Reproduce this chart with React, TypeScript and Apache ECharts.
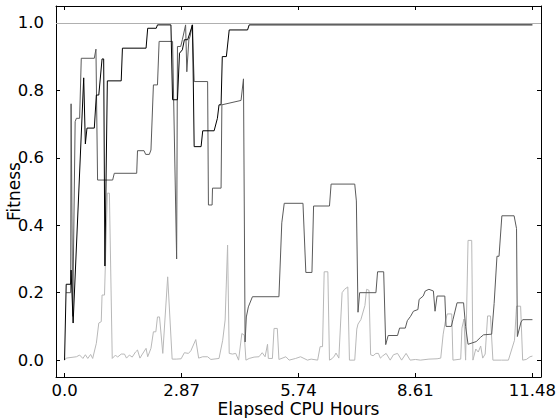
import React, { useEffect, useRef } from "react";
import * as echarts from "echarts";

const xTicks = [0, 2.87, 5.74, 8.61, 11.48];
const xTickLabels = ["0.0", "2.87", "5.74", "8.61", "11.48"];
const yTicks = [0, 0.2, 0.4, 0.6, 0.8, 1.0];
const yTickLabels = ["0.0", "0.2", "0.4", "0.6", "0.8", "1.0"];
const referenceLevel = 1.0;

// Run 1 (black): [hours, fitness]
const runBlack: [number, number][] = [
  [0, 0], [0.04, 0.225], [0.15, 0.225], [0.16, 0.267], [0.21, 0.11], [0.47, 0.837],
  [0.51, 0.641], [0.55, 0.688], [0.73, 0.688], [0.78, 0.786], [0.84, 0.786],
  [0.92, 0.893], [0.96, 0.893], [0.99, 0.279], [1.05, 0.828], [1.39, 0.828],
  [1.42, 0.925], [2.0, 0.925], [2.04, 0.984], [2.25, 0.984], [2.28, 0.994],
  [2.61, 0.994], [2.65, 0.772], [2.77, 0.772], [2.82, 0.91], [2.89, 0.92],
  [2.94, 0.95], [3.02, 0.95], [3.14, 0.994], [3.18, 0.633], [3.35, 0.633],
  [3.39, 0.68], [3.67, 0.68], [3.75, 0.717], [3.79, 0.757], [3.84, 0.757],
  [3.87, 0.9], [3.97, 0.9], [4.04, 0.979], [4.49, 0.979], [4.53, 0.994],
  [11.48, 0.994],
];

// Run 2 (dark grey)
const runDark: [number, number][] = [
  [0.04, 0.2], [0.15, 0.2], [0.16, 0.76], [0.2, 0.13], [0.26, 0.707], [0.29, 0.717],
  [0.37, 0.717], [0.41, 0.895], [0.73, 0.895], [0.77, 0.922], [0.81, 0.534],
  [1.18, 0.534], [1.22, 0.554], [1.77, 0.554], [1.79, 0.621], [1.95, 0.621],
  [1.99, 0.61], [2.08, 0.61], [2.12, 0.623], [2.18, 0.816], [2.28, 0.816],
  [2.32, 0.945], [2.65, 0.945], [2.75, 0.3], [2.77, 0.93], [2.85, 0.93],
  [2.89, 0.95], [2.97, 0.994], [3.0, 0.855], [3.05, 0.95], [3.08, 0.96],
  [3.13, 0.994], [3.18, 0.826], [3.51, 0.826], [3.53, 0.46], [3.62, 0.46],
  [3.63, 0.51], [3.84, 0.51], [3.86, 0.757], [4.33, 0.77], [4.39, 0.834],
  [4.43, 0.054], [4.46, 0.128], [4.51, 0.158], [4.61, 0.188], [5.26, 0.188],
  [5.33, 0.407], [5.39, 0.465], [5.85, 0.465], [5.92, 0.26], [6.07, 0.26],
  [6.11, 0.457], [6.5, 0.457], [6.54, 0.522], [7.12, 0.522], [7.16, 0.472],
  [7.2, 0.142], [7.24, 0.2], [7.64, 0.2], [7.68, 0.262], [7.83, 0.262],
  [7.88, 0.046], [7.94, 0.073], [8.17, 0.073], [8.22, 0.095], [8.36, 0.095],
  [8.41, 0.117], [8.49, 0.13], [8.56, 0.145], [8.67, 0.15], [8.7, 0.18],
  [8.8, 0.19], [8.85, 0.205], [8.94, 0.21], [9.05, 0.205], [9.09, 0.145],
  [9.14, 0.19], [9.33, 0.19], [9.36, 0.1], [9.49, 0.1], [9.53, 0.12],
  [9.63, 0.17], [9.79, 0.17], [9.84, 0.1], [9.9, 0.047], [10.1, 0.055],
  [10.21, 0.068], [10.28, 0.075], [10.48, 0.077], [10.54, 0.168], [10.61, 0.308],
  [10.66, 0.308], [10.73, 0.428], [11.03, 0.428], [11.09, 0.39], [11.11, 0.07],
  [11.2, 0.113], [11.24, 0.12], [11.48, 0.12],
];

// Run 3 (light grey)
const runLight: [number, number][] = [
  [0, 0], [0.04, 0.006], [0.29, 0.01], [0.37, 0.015], [0.45, 0.005], [0.51, 0.016],
  [0.57, 0.005], [0.64, 0.017], [0.69, 0.005], [0.78, 0.05], [0.84, 0.11],
  [0.9, 0.114], [0.92, 0.193], [0.98, 0.193], [1.05, 0.495], [1.1, 0.495],
  [1.17, 0.005], [1.25, 0.015], [1.3, 0.009], [1.39, 0.018], [1.47, 0.018],
  [1.52, 0.006], [1.59, 0.015], [1.66, 0.009], [1.74, 0.024], [1.79, 0.03],
  [1.85, 0.006], [1.91, 0.018], [2.0, 0.035], [2.04, 0.01], [2.12, 0.035],
  [2.18, 0.084], [2.24, 0.084], [2.28, 0.128], [2.33, 0.128], [2.41, 0.02],
  [2.53, 0.247], [2.64, 0.003], [2.74, 0.003], [2.86, 0.004], [2.94, 0.022],
  [3.04, 0.02], [3.1, 0.028], [3.22, 0.061], [3.29, 0.006], [3.39, 0.01],
  [3.51, 0.01], [3.59, 0.002], [3.79, 0.005], [3.88, 0.059], [3.94, 0.119],
  [4.0, 0.341], [4.04, 0.02], [4.12, 0.018], [4.2, 0.02], [4.27, 0.0],
  [4.35, 0.079], [4.41, 0.074], [4.45, 0], [4.53, 0.005], [4.65, 0.009],
  [4.77, 0.01], [4.85, 0.022], [4.92, 0.01], [4.98, 0.047], [5.0, 0.005],
  [5.1, 0.005], [5.14, 0.094], [5.22, 0.094], [5.26, 0.002], [5.43, 0.01],
  [5.51, 0], [5.67, 0.005], [5.79, 0.01], [5.96, 0], [6.05, 0.003], [6.21, 0],
  [6.27, 0.04], [6.33, 0.04], [6.37, 0.262], [6.46, 0.262], [6.5, 0],
  [6.56, 0.004], [6.62, 0.012], [6.66, 0.021], [6.73, 0.006], [6.81, 0.2],
  [6.87, 0.21], [6.95, 0.217], [6.99, 0], [7.12, 0], [7.17, 0.092],
  [7.2, 0.107], [7.27, 0.12], [7.37, 0.162], [7.41, 0.21], [7.47, 0.207],
  [7.51, 0.016], [7.57, 0.013], [7.64, 0.02], [7.7, 0.02], [7.75, 0.006],
  [7.8, 0.012], [7.89, 0.02], [7.99, 0], [8.07, 0.016], [8.17, 0.02],
  [8.27, 0], [8.38, 0.02], [8.48, 0], [8.61, 0.002], [8.73, 0], [8.94, 0.003],
  [9.14, 0.004], [9.23, 0.006], [9.29, 0.077], [9.34, 0.113], [9.39, 0.137],
  [9.5, 0.137], [9.53, 0], [9.72, 0.003], [9.75, 0.095], [9.8, 0.122],
  [9.84, 0], [9.9, 0.355], [9.99, 0.355], [10.02, 0], [10.09, 0.033],
  [10.15, 0.024], [10.21, 0.042], [10.26, 0.006], [10.32, 0.018], [10.38, 0.131],
  [10.45, 0.131], [10.51, 0], [10.72, 0], [10.89, 0], [11.04, 0.059],
  [11.09, 0.16], [11.19, 0.16], [11.24, 0], [11.33, 0.002], [11.42, 0.01],
  [11.48, 0.012],
];

const FONT = "DejaVu Sans";

function labelFor(values: number[], labels: string[]) {
  return (v: number) => {
    let best = 0;
    for (let i = 1; i < values.length; i++) {
      if (Math.abs(values[i] - v) < Math.abs(values[best] - v)) best = i;
    }
    return labels[best];
  };
}

export default function App() {
  const ref = useRef<HTMLDivElement>(null);

  useEffect(() => {
    if (!ref.current) return;
    const chart = echarts.init(ref.current, null, { renderer: "svg" });
    const axisLine = { show: true, onZero: false, lineStyle: { color: "#000", width: 1 } };
    const tickStyle = { lineStyle: { color: "#000", width: 1 } };
    chart.setOption({
      animation: false,
      backgroundColor: "#fff",
      grid: {
        left: 56,
        right: 18,
        top: 6,
        bottom: 41,
        containLabel: false,
        outerBoundsMode: "none",
      },
      xAxis: [
        {
          type: "value",
          position: "bottom",
          min: -0.21,
          max: 11.69,
          axisLine,
          axisTick: { show: true, inside: true, length: 4, customValues: xTicks, ...tickStyle },
          axisLabel: {
            show: true,
            customValues: xTicks,
            formatter: labelFor(xTicks, xTickLabels),
            color: "#000",
            fontFamily: FONT,
            fontSize: 16.5,
            lineHeight: 16,
            margin: 5,
          },
          splitLine: { show: false },
          name: "Elapsed CPU Hours",
          nameLocation: "middle",
          nameGap: 23,
          nameMoveOverlap: false,
          nameTextStyle: { color: "#000", fontFamily: FONT, fontSize: 17, lineHeight: 17 },
        },
        {
          type: "value",
          position: "top",
          min: -0.21,
          max: 11.69,
          axisLine,
          axisTick: { show: true, inside: true, length: 4, customValues: xTicks, ...tickStyle },
          axisLabel: { show: false },
          splitLine: { show: false },
        },
      ],
      yAxis: [
        {
          type: "value",
          position: "left",
          min: -0.05,
          max: 1.05,
          axisLine,
          axisTick: { show: true, inside: true, length: 4, customValues: yTicks, ...tickStyle },
          axisLabel: {
            show: true,
            customValues: yTicks,
            formatter: labelFor(yTicks, yTickLabels),
            color: "#000",
            fontFamily: FONT,
            fontSize: 16.5,
            lineHeight: 16,
            margin: 12,
          },
          splitLine: { show: false },
          name: "Fitness",
          nameLocation: "middle",
          nameGap: 34,
          nameMoveOverlap: false,
          nameTextStyle: { color: "#000", fontFamily: FONT, fontSize: 17, lineHeight: 17 },
        },
        {
          type: "value",
          position: "right",
          min: -0.05,
          max: 1.05,
          axisLine,
          axisTick: { show: true, inside: true, length: 4, customValues: yTicks, ...tickStyle },
          axisLabel: { show: false },
          splitLine: { show: false },
        },
      ],
      series: [
        {
          type: "line",
          name: "reference",
          data: [],
          markLine: {
            silent: true,
            symbol: "none",
            label: { show: false },
            lineStyle: { color: "#b0b0b0", width: 1, type: "solid" },
            data: [{ yAxis: referenceLevel }],
          },
        },
        {
          type: "line",
          name: "run3",
          data: runLight,
          showSymbol: false,
          lineStyle: { color: "#b8b8b8", width: 1 },
          itemStyle: { color: "#b8b8b8" },
        },
        {
          type: "line",
          name: "run2",
          data: runDark,
          showSymbol: false,
          lineStyle: { color: "#5a5a5a", width: 1 },
          itemStyle: { color: "#5a5a5a" },
        },
        {
          type: "line",
          name: "run1",
          data: runBlack,
          showSymbol: false,
          lineStyle: { color: "#000", width: 1 },
          itemStyle: { color: "#000" },
        },
      ],
    });
    return () => chart.dispose();
  }, []);

  return (
    <div
      ref={ref}
      style={{ position: "fixed", left: 0, top: 0, width: 559, height: 418, background: "#fff" }}
    />
  );
}
